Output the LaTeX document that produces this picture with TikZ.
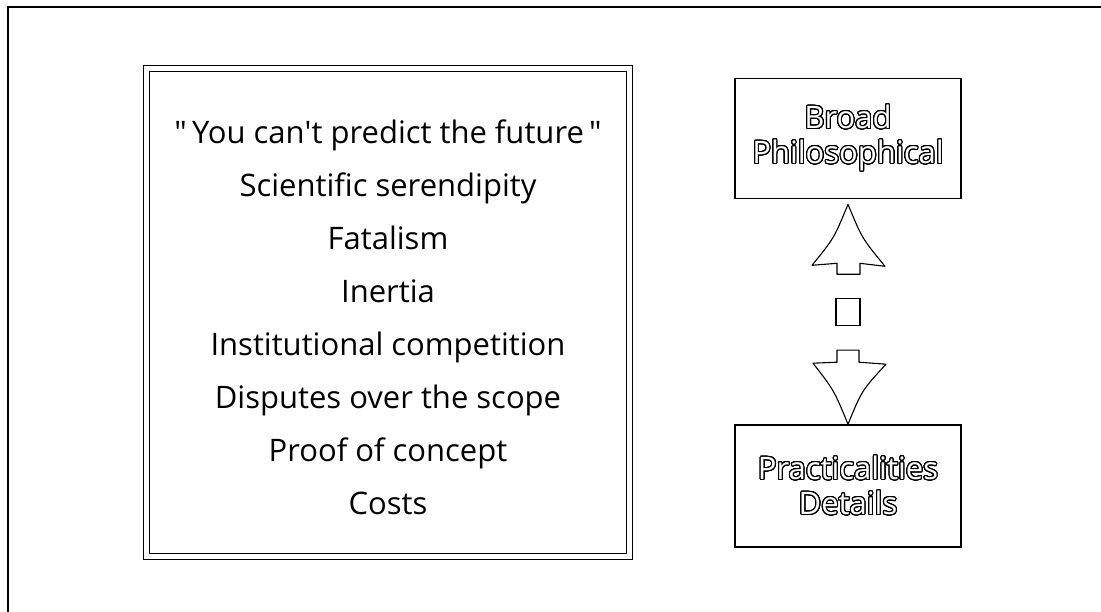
\documentclass[tikz,border=0pt]{standalone}
\usepackage{fontspec}
\setmainfont{Open Sans}
\usepackage{contour}
\contourlength{1.1pt}
\contournumber{32}
\usetikzlibrary{calc,positioning}
\tikzset{font=\fontsize{31pt}{53pt}\selectfont}
\tikzset{every node/.append style={transform shape=false}}
\tikzset{listbox/.style={draw, double, line width=1.1pt, double distance=4.8pt,
    minimum width=483pt, minimum height=488pt, inner sep=0pt}}
\tikzset{levelbox/.style={draw, line width=1.6pt, minimum width=226pt,
    minimum height=120pt, align=center, font=\fontsize{31pt}{35pt}\selectfont}}
\tikzset{headline/.style={line width=1.1pt, fill=white, line join=round}}
% hollow letters
\newcommand{\hollow}[1]{\contour{black}{\textcolor{white}{#1}}}

\begin{document}
\begin{tikzpicture}[x=1pt,y=-1pt]
  \useasboundingbox (0,0) rectangle (1101,612);
  \draw[line width=1.5pt] (8,612)--(8,7)--(1101,7);

  \node[listbox] (causes) at (388,312.5) {};
  \node[align=center] (causelist) at ($(causes.center)+(0,5)$)
    {\textquotedbl\,You can\textquotesingle t predict the future\,\textquotedbl\\
    Scientific serendipity\\ Fatalism\\ Inertia\\ Institutional competition\\
    Disputes over the scope\\ Proof of concept\\ Costs};

  \node[levelbox] (broad) at (848,138.5) {\hollow{Broad}\\ \hollow{Philosophical}};
  \node[levelbox, minimum height=122pt] (pract) at (848,486) {\hollow{Practicalities}\\ \hollow{Details}};

  \node[draw, line width=1.2pt, minimum width=24pt, minimum height=27pt, inner sep=0pt]
    (gap) at ($(broad.south)!0.5!(pract.north)$) {};

  % the two heads
  \coordinate (uptip) at ($(broad.south)+(0,5)$);
  \begin{scope}[shift={(uptip)}]
    \draw[headline] (0,0) .. controls (-14,34) .. (-36,61) -- (-11,59) -- (-11,70)
      -- (12,70) -- (12,59) -- (37,62) .. controls (14,34) .. (0,0) -- cycle;
  \end{scope}
  \begin{scope}[shift={(pract.north)}]
    \draw[headline] (0,0) .. controls (-14,-34) .. (-35,-61) -- (-11,-62) -- (-11,-74)
      -- (11,-74) -- (11,-62) -- (38,-60) .. controls (14,-34) .. (0,0) -- cycle;
  \end{scope}
\end{tikzpicture}
\end{document}
